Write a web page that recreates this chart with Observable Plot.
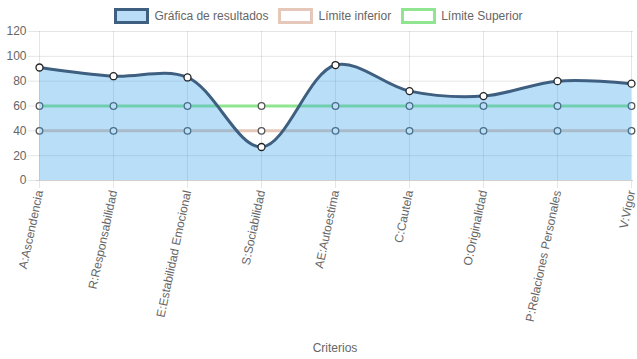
<!DOCTYPE html>
<html>
<head>
<meta charset="utf-8">
<script src="https://cdn.jsdelivr.net/npm/d3@7"></script>
<script src="https://cdn.jsdelivr.net/npm/@observablehq/plot@0.6"></script>
<style>
  html, body { margin: 0; padding: 0; background: #fff; }
  #wrap { position: relative; width: 637px; height: 359px; font-family: "Liberation Sans", Arial, Helvetica, sans-serif; }
  #legend { position: absolute; top: 8px; left: 0; width: 637px; display: flex; justify-content: center; gap: 10px; font-size: 12px; color: #666; z-index: 2; }
  .item { display: flex; align-items: center; gap: 5px; margin-left: 0; }
  .box { width: 29px; height: 10px; border-width: 3px; border-style: solid; box-sizing: content-box; }
</style>
</head>
<body>
<div id="wrap">
  <div id="legend"></div>
  <div id="chart"></div>
</div>
<script>
const categories = ["A:Ascendencia", "R:Responsabilidad", "E:Estabilidad Emocional", "S:Sociabilidad", "AE:Autoestima", "C:Cautela", "O:Originalidad", "P:Relaciones Personales", "V:Vigor"];
const resultados = [91, 84, 83, 27, 93, 72, 68, 80, 78];
const limiteInferior = [40, 40, 40, 40, 40, 40, 40, 40, 40];
const limiteSuperior = [60, 60, 60, 60, 60, 60, 60, 60, 60];
const yTicks = [0, 20, 40, 60, 80, 100, 120];
const seriesNames = ["Gráfica de resultados", "Límite inferior", "Límite Superior"];
const xTitle = "Criterios";

const colLine = "#3e5f80";
const colFill = "rgb(54,162,235)";
const colLow = "#e6c8ba";
const colUp = "#90e690";

const rows = (vals) => categories.map((c, i) => ({c, v: vals[i]}));
const res = rows(resultados), low = rows(limiteInferior), up = rows(limiteSuperior);

// legend
const legendSpec = [
  {name: seriesNames[0], border: colLine, bg: "#b9dcf7"},
  {name: seriesNames[1], border: colLow, bg: "#fff"},
  {name: seriesNames[2], border: colUp, bg: "#fff"}
];
const leg = document.getElementById("legend");
legendSpec.forEach(s => {
  const it = document.createElement("div"); it.className = "item";
  const b = document.createElement("div"); b.className = "box";
  b.style.borderColor = s.border; b.style.background = s.bg;
  const t = document.createElement("span"); t.textContent = s.name;
  it.appendChild(b); it.appendChild(t); leg.appendChild(it);
});

const chart = Plot.plot({
  width: 637, height: 359,
  marginTop: 31, marginBottom: 179, marginLeft: 36, marginRight: 4,
  style: {fontFamily: "'Liberation Sans', Arial, Helvetica, sans-serif", fontSize: "12px", background: "white", overflow: "visible"},
  x: {type: "point", domain: categories, padding: 0, label: null},
  y: {domain: [0, 120], label: null},
  marks: [
    Plot.gridY(yTicks, {stroke: "#000", strokeOpacity: 0.1}),
    Plot.gridX(categories, {stroke: "#000", strokeOpacity: 0.1}),
    Plot.axisY(yTicks, {tickSize: 8, tickPadding: 2, stroke: "#e5e5e5", strokeOpacity: 1, fill: "#666", label: null}),
    Plot.axisX({tickSize: 8, tickPadding: 2, tickRotate: -78, stroke: "#e5e5e5", strokeOpacity: 1, fill: "#666", label: null}),
    Plot.ruleY([0], {stroke: "#d0d0d0"}),
    Plot.line(low, {x: "c", y: "v", stroke: colLow, strokeWidth: 3}),
    Plot.dot(low, {x: "c", y: "v", r: 3.3, fill: "white", stroke: "#555", strokeWidth: 1.3}),
    Plot.line(up, {x: "c", y: "v", stroke: colUp, strokeWidth: 3}),
    Plot.dot(up, {x: "c", y: "v", r: 3.3, fill: "white", stroke: "#555", strokeWidth: 1.3}),
    Plot.areaY(res, {x: "c", y: "v", fill: colFill, fillOpacity: 0.35, curve: "catmull-rom"}),
    Plot.line(res, {x: "c", y: "v", stroke: colLine, strokeWidth: 3, curve: "catmull-rom"}),
    Plot.dot(res, {x: "c", y: "v", r: 3.5, fill: "white", stroke: "#222", strokeWidth: 1.3}),
    Plot.text([xTitle], {frameAnchor: "bottom", dy: 171, fill: "#666", fontSize: 12})
  ]
});
document.getElementById("chart").appendChild(chart);
</script>
</body>
</html>
